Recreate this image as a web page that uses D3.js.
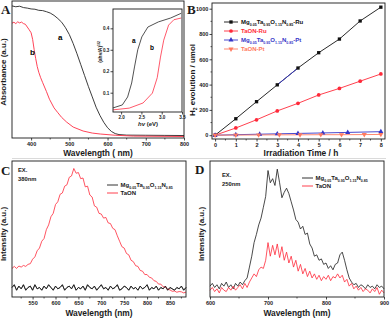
<!DOCTYPE html>
<html>
<head>
<meta charset="utf-8">
<script src="https://cdn.jsdelivr.net/npm/d3@7"></script>
<style>
  html, body { margin: 0; padding: 0; background: #fff; }
  svg { display: block; font-family: 'Liberation Sans', Arial, sans-serif; font-weight: bold; }
</style>
</head>
<body>
<svg id="fig" width="392" height="320"></svg>
<script>
// ===================================
// Data
// ===================================

// Panel A: UV-vis absorbance (a.u.)
const absWaveMg = [350, 360, 370, 380, 390, 400, 410, 420, 430, 440, 450, 460, 470, 480, 490, 500, 510, 520, 530, 540, 550, 560, 570, 580, 590, 600, 610, 620, 630, 650, 700, 750, 800];
const absMg = [0.964, 0.958, 0.962, 0.952, 0.948, 0.942, 0.94, 0.932, 0.93, 0.922, 0.912, 0.895, 0.872, 0.845, 0.805, 0.755, 0.69, 0.615, 0.535, 0.455, 0.375, 0.3, 0.225, 0.165, 0.115, 0.075, 0.048, 0.032, 0.025, 0.021, 0.02, 0.019, 0.018];
const absWaveTaON = [350, 355, 360, 365, 370, 375, 380, 385, 390, 395, 400, 404, 408, 412, 416, 420, 425, 430, 440, 448, 460, 469, 480, 493, 510, 536, 560, 581, 620, 668, 800];
const absTaON = [0.838, 0.845, 0.835, 0.848, 0.84, 0.846, 0.835, 0.83, 0.81, 0.79, 0.768, 0.72, 0.645, 0.58, 0.522, 0.48, 0.44, 0.406, 0.34, 0.283, 0.22, 0.188, 0.15, 0.116, 0.08, 0.051, 0.036, 0.029, 0.02, 0.014, 0.011];
const absTicks = [400, 500, 600, 700, 800];

// Panel A inset: Tauc plot
const taucEvMg = [1.8, 2.03, 2.16, 2.26, 2.33, 2.41, 2.51, 2.66, 2.92, 3.22, 3.48];
const taucMg = [0.029, 0.043, 0.08, 0.145, 0.22, 0.3, 0.36, 0.406, 0.43, 0.448, 0.47];
const taucEvTaON = [1.8, 2.2, 2.54, 2.77, 2.89, 2.97, 3.05, 3.17, 3.3, 3.48];
const taucTaON = [0.02, 0.028, 0.052, 0.098, 0.17, 0.266, 0.345, 0.415, 0.44, 0.448];
const taucXTicks = [2.0, 2.5, 3.0, 3.5];
const taucYTicks = [0.1, 0.2, 0.3, 0.4];

// Panel B: H2 evolution (umol)
const h2Hours = [0, 1, 2, 3, 4, 5, 6, 7, 8];
const h2MgRu = [0, 130, 265, 398, 531, 652, 760, 903, 1012];
const h2TaONRu = [0, 57, 122, 192, 252, 318, 370, 427, 484];
const h2MgPtHours = [0, 1, 2.15, 3, 4, 5.2, 6.4, 8];
const h2MgPt = [0, 4, 8, 11, 14, 18, 22, 28];
const h2TaONPtHours = [0, 1, 2.1, 3.1, 4.1, 5.1, 6.1, 7.2, 8];
const h2TaONPt = [0, 1, 2, 3, 3, 4, 4, 5, 6];
const h2XTicks = [0, 1, 2, 3, 4, 5, 6, 7, 8];
const h2YTicks = [0, 200, 400, 600, 800, 1000];

// Panel C: PL, EX. 380 nm (505..885 nm, 5 nm steps)
const plCStart = 505, plCStep = 5;
const plCMg = [0.07, 0.09, 0.05, 0.08, 0.06, 0.09, 0.05, 0.07, 0.08, 0.05, 0.09, 0.06, 0.07, 0.05, 0.08, 0.06, 0.09, 0.07, 0.05, 0.08,
  0.06, 0.07, 0.09, 0.05, 0.07, 0.08, 0.06, 0.09, 0.05, 0.07, 0.06, 0.08, 0.05, 0.09, 0.07, 0.06, 0.08, 0.05, 0.07, 0.09,
  0.06, 0.07, 0.05, 0.08, 0.06, 0.07, 0.09, 0.05, 0.06, 0.08, 0.07, 0.05, 0.08, 0.06, 0.07, 0.05, 0.08, 0.06, 0.07, 0.09,
  0.05, 0.07, 0.06, 0.08, 0.05, 0.07, 0.06, 0.08, 0.05, 0.07, 0.06, 0.05, 0.07, 0.06, 0.08, 0.05, 0.07];
const plCTaON = [0.21, 0.225, 0.21, 0.228, 0.22, 0.232, 0.225, 0.24, 0.245, 0.278, 0.295, 0.34, 0.36, 0.41, 0.43, 0.495, 0.53, 0.59, 0.615, 0.68,
  0.7, 0.755, 0.765, 0.815, 0.825, 0.88, 0.89, 0.945, 0.91, 0.915, 0.87, 0.875, 0.81, 0.815, 0.75, 0.735, 0.67, 0.66, 0.615, 0.61,
  0.58, 0.585, 0.545, 0.54, 0.505, 0.495, 0.45, 0.41, 0.37, 0.36, 0.32, 0.31, 0.27, 0.26, 0.23, 0.225, 0.195, 0.19, 0.165, 0.165,
  0.145, 0.14, 0.12, 0.115, 0.095, 0.095, 0.075, 0.072, 0.058, 0.052, 0.042, 0.044, 0.035, 0.04, 0.038, 0.03, 0.036];
const plCTicks = [550, 600, 650, 700, 750, 800, 850];

// Panel D: PL, EX. 250 nm (600..900 nm, 4 nm steps)
const plDStart = 600, plDStep = 4;
const plDMg = [0.08, 0.1, 0.07, 0.09, 0.06, 0.1, 0.08, 0.11, 0.07, 0.09, 0.06, 0.1, 0.08, 0.11, 0.09, 0.12,
  0.14, 0.22, 0.3, 0.4, 0.46, 0.53, 0.58, 0.66, 0.74, 0.93, 0.84, 0.87, 0.82, 0.94, 0.84, 0.73, 0.77, 0.8, 0.76, 0.7,
  0.64, 0.57, 0.55, 0.5, 0.52, 0.46, 0.47, 0.39, 0.36, 0.3, 0.31, 0.27, 0.28, 0.24, 0.25, 0.21, 0.23, 0.2, 0.24, 0.25,
  0.31, 0.33, 0.27, 0.2, 0.14, 0.11, 0.09, 0.1, 0.07, 0.09, 0.08, 0.06, 0.09, 0.07, 0.08, 0.06, 0.09, 0.07, 0.08, 0.06];
const plDTaON = [0.05, 0.07, 0.04, 0.06, 0.03, 0.07, 0.05, 0.04, 0.07, 0.05, 0.08, 0.05, 0.07, 0.09, 0.06, 0.1,
  0.07, 0.11, 0.14, 0.17, 0.15, 0.2, 0.22, 0.21, 0.27, 0.4, 0.3, 0.38, 0.31, 0.39, 0.29, 0.37, 0.27, 0.33, 0.25, 0.3,
  0.22, 0.27, 0.19, 0.24, 0.17, 0.21, 0.15, 0.19, 0.14, 0.17, 0.13, 0.16, 0.12, 0.15, 0.13, 0.16, 0.12, 0.15, 0.14, 0.17,
  0.14, 0.16, 0.11, 0.13, 0.08, 0.1, 0.06, 0.08, 0.05, 0.07, 0.04, 0.06, 0.05, 0.03, 0.06, 0.04, 0.07, 0.02, 0.05, 0.03];
const plDTicks = [600, 700, 800, 900];

const MG_LABEL = 'Mg_{0.05}Ta_{0.95}O_{1.15}N_{0.85}';

// ===================================
// Helpers
// ===================================

const svg = d3.select('#fig');
const INK = '#1a1a1a';

function drawFrame(x, y) {
  const [x0, x1] = x.range();
  const [y0, y1] = y.range();
  svg.append('rect')
    .attr('x', Math.min(x0, x1)).attr('y', Math.min(y0, y1))
    .attr('width', Math.abs(x1 - x0)).attr('height', Math.abs(y1 - y0))
    .attr('fill', 'none').attr('stroke', INK).attr('stroke-width', 0.9);
}

function styleAxis(g, fontSize) {
  g.attr('font-family', null).attr('font-size', fontSize);
  g.select('.domain').remove();
  g.selectAll('line').attr('stroke', INK).attr('stroke-width', 0.8);
  g.selectAll('text').attr('fill', INK);
}

function bottomAxis(x, yPos, ticks, fmt, fontSize, minor) {
  const g = svg.append('g').attr('transform', `translate(0,${yPos})`)
    .call(d3.axisBottom(x).tickValues(ticks).tickSize(2.5).tickPadding(1.2).tickFormat(fmt));
  styleAxis(g, fontSize);
  if (minor) {
    g.selectAll('.minor').data(minor).join('line')
      .attr('x1', (d) => x(d)).attr('x2', (d) => x(d))
      .attr('y1', 0).attr('y2', 1.5)
      .attr('stroke', INK).attr('stroke-width', 0.7);
  }
  return g;
}

function leftAxis(y, xPos, ticks, fmt, fontSize, minor) {
  const g = svg.append('g').attr('transform', `translate(${xPos},0)`)
    .call(d3.axisLeft(y).tickValues(ticks).tickSize(2.5).tickPadding(1.2).tickFormat(fmt));
  styleAxis(g, fontSize);
  if (minor) {
    g.selectAll('.minor').data(minor).join('line')
      .attr('y1', (d) => y(d)).attr('y2', (d) => y(d))
      .attr('x1', 0).attr('x2', -1.5)
      .attr('stroke', INK).attr('stroke-width', 0.7);
  }
  return g;
}

// text with _{...} subscripts
function richText(parent, str, x, y, fs, color) {
  const t = parent.append('text').attr('x', x).attr('y', y)
    .attr('font-size', fs).attr('fill', color);
  const parts = str.split(/(_\{[^}]+\})/).filter(Boolean);
  let low = false;
  parts.forEach((p) => {
    if (p.startsWith('_{')) {
      t.append('tspan').text(p.slice(2, -1))
        .attr('font-size', fs * 0.6).attr('dy', low ? 0 : fs * 0.3);
      low = true;
    } else {
      t.append('tspan').text(p).attr('dy', low ? -fs * 0.3 : 0);
      low = false;
    }
  });
  return t;
}

function plotLine(xs, ys, x, y, color, width) {
  const pts = xs.map((d, i) => [d, ys[i]]);
  svg.append('path').datum(pts)
    .attr('fill', 'none').attr('stroke', color).attr('stroke-width', width || 0.9)
    .attr('stroke-linejoin', 'round')
    .attr('d', d3.line().x((d) => x(d[0])).y((d) => y(d[1])));
}

function stepped(start, step, vals) {
  return vals.map((_, i) => start + i * step);
}

function yTitle(cx, cy, fs) {
  return svg.append('text')
    .attr('transform', `translate(${cx},${cy}) rotate(-90)`)
    .attr('text-anchor', 'middle').attr('font-size', fs).attr('fill', INK);
}

function panelLabel(x, y, s) {
  svg.append('text').attr('x', x).attr('y', y).text(s)
    .attr('font-family', "'Liberation Serif', 'Times New Roman', serif")
    .attr('font-size', 13).attr('fill', INK);
}

// ===================================
// Panel A
// ===================================

function drawPanelA() {
  const x = d3.scaleLinear().domain([350, 800]).range([12, 184]);
  const y = d3.scaleLinear().domain([0, 1]).range([138, 1]);

  plotLine(absWaveMg, absMg, x, y, '#262626');
  plotLine(absWaveTaON, absTaON, x, y, '#ff2f45');
  drawFrame(x, y);
  bottomAxis(x, 138, absTicks, d3.format('d'), 5.5, [450, 550, 650, 750]);

  svg.append('text').attr('x', 98).attr('y', 155.5).attr('text-anchor', 'middle')
    .attr('font-size', 8.4).attr('fill', INK).text('Wavelength ( nm)');
  yTitle(6, 72, 8).text('Absorbance (a.u.)');

  svg.append('text').attr('x', 58).attr('y', 40).attr('font-size', 8).text('a');
  svg.append('text').attr('x', 30).attr('y', 55).attr('font-size', 8).text('b');

  // inset Tauc plot
  const ix = d3.scaleLinear().domain([1.8, 3.5]).range([113, 182]);
  const iy = d3.scaleLinear().domain([0.01, 0.49]).range([112, 9]);
  svg.append('rect').attr('x', 113).attr('y', 9).attr('width', 69).attr('height', 103).attr('fill', '#fff');
  plotLine(taucEvMg, taucMg, ix, iy, '#262626', 0.8);
  plotLine(taucEvTaON, taucTaON, ix, iy, '#ff2f45', 0.8);
  drawFrame(ix, iy);
  bottomAxis(ix, 112, taucXTicks, d3.format('.1f'), 4.6);
  leftAxis(iy, 113, taucYTicks, d3.format('.1f'), 4.6);

  svg.append('text').attr('x', 132).attr('y', 43).attr('font-size', 6.5).text('a');
  svg.append('text').attr('x', 150).attr('y', 50).attr('font-size', 6.5).text('b');

  const ht = svg.append('text').attr('x', 148).attr('y', 126).attr('text-anchor', 'middle')
    .attr('font-size', 6).attr('fill', INK);
  ht.append('tspan').attr('font-style', 'italic').text('hv');
  ht.append('tspan').text(' (eV)');

  const yt = yTitle(102, 52, 5);
  yt.append('tspan').text('(ahv/A)');
  yt.append('tspan').attr('font-size', 3.4).attr('dy', -2).text('1/2');
}

// ===================================
// Panel B
// ===================================

function drawPanelB() {
  const x = d3.scaleLinear().domain([-0.15, 8.2]).range([212, 385]);
  const y = d3.scaleLinear().domain([-30, 1045]).range([139, 3]);

  const series = [
    { name: MG_LABEL + '-Ru', hours: h2Hours, vals: h2MgRu, color: '#111', sym: d3.symbolSquare, rot: 0 },
    { name: 'TaON-Ru', hours: h2Hours, vals: h2TaONRu, color: '#ff2a3a', sym: d3.symbolCircle, rot: 0 },
    { name: MG_LABEL + '-Pt', hours: h2MgPtHours, vals: h2MgPt, color: '#3535c8', sym: d3.symbolTriangle, rot: 0 },
    { name: 'TaON-Pt', hours: h2TaONPtHours, vals: h2TaONPt, color: '#ff7a60', sym: d3.symbolTriangle, rot: 180 },
  ];

  series.forEach((s) => plotLine(s.hours, s.vals, x, y, s.color, 0.9));
  // blue trace overlaps the black one between 3 h and 4 h in the original
  plotLine(h2Hours.slice(3, 5), h2MgRu.slice(3, 5), x, y, '#3535c8', 0.9);

  series.forEach((s) => {
    svg.append('g').selectAll('path').data(s.hours.map((h, i) => [h, s.vals[i]])).join('path')
      .attr('transform', (d) => `translate(${x(d[0])},${y(d[1])}) rotate(${s.rot})`)
      .attr('d', d3.symbol(s.sym, 11))
      .attr('fill', s.color);
  });

  drawFrame(x, y);
  bottomAxis(x, 139, h2XTicks, d3.format('d'), 5.5, [0.5, 1.5, 2.5, 3.5, 4.5, 5.5, 6.5, 7.5]);
  leftAxis(y, 212, h2YTicks, d3.format('d'), 5.5, [100, 300, 500, 700, 900]);

  svg.append('text').attr('x', 301).attr('y', 155.5).attr('text-anchor', 'middle')
    .attr('font-size', 8.4).attr('fill', INK).text('Irradiation Time / h');
  const yt = yTitle(195, 80, 8);
  yt.append('tspan').text('H');
  yt.append('tspan').attr('font-size', 5).attr('dy', 2).text('2');
  yt.append('tspan').attr('dy', -2).text(' evolution / umol');

  // legend
  const rows = [22, 31, 40, 49];
  series.forEach((s, i) => {
    const cy = rows[i];
    svg.append('line').attr('x1', 224).attr('x2', 238).attr('y1', cy).attr('y2', cy)
      .attr('stroke', s.color).attr('stroke-width', 0.9);
    svg.append('path').attr('transform', `translate(231,${cy}) rotate(${s.rot})`)
      .attr('d', d3.symbol(s.sym, 11)).attr('fill', s.color);
    richText(svg, s.name, 241, cy + 2.2, 6, s.color);
  });
}

// ===================================
// Panels C and D
// ===================================

function drawPL(opts) {
  const x = d3.scaleLinear().domain(opts.domain).range(opts.xr);
  const y = d3.scaleLinear().domain([0, 1]).range([297, 161]);
  const mgWave = stepped(opts.start, opts.step, opts.mg);
  const taonWave = stepped(opts.start, opts.step, opts.taon);

  plotLine(mgWave, opts.mg, x, y, '#1c1c1c', 0.8);
  plotLine(taonWave, opts.taon, x, y, '#ff2a3a', 0.8);
  if (opts.mgOnTop) plotLine(mgWave, opts.mg, x, y, '#1c1c1c', 0.8);

  drawFrame(x, y);
  bottomAxis(x, 297, opts.ticks, d3.format('d'), 5.5, opts.minor);

  svg.append('text').attr('x', (opts.xr[0] + opts.xr[1]) / 2).attr('y', 316).attr('text-anchor', 'middle')
    .attr('font-size', 8.4).attr('fill', INK).text('Wavelength (nm)');
  yTitle(opts.xr[0] - 6, 234, 8).text('Intensity (a.u.)');

  svg.append('text').attr('x', opts.ex[0]).attr('y', opts.ex[1]).attr('font-size', 5.8).attr('fill', INK).text('EX.');
  svg.append('text').attr('x', opts.ex[0]).attr('y', opts.ex[1] + 8.5).attr('font-size', 5.8).attr('fill', INK).text(opts.exText);

  const [lx, ly] = opts.legend;
  [[MG_LABEL, '#1c1c1c'], ['TaON', '#ff2a3a']].forEach(([name, color], i) => {
    const cy = ly + i * 8;
    svg.append('line').attr('x1', lx).attr('x2', lx + 11).attr('y1', cy).attr('y2', cy)
      .attr('stroke', color).attr('stroke-width', 0.9);
    richText(svg, name, lx + 13.5, cy + 2.2, 6, INK);
  });
}

drawPanelA();
drawPanelB();

drawPL({
  domain: [505, 885], xr: [12, 186], start: plCStart, step: plCStep,
  mg: plCMg, taon: plCTaON, ticks: plCTicks,
  minor: [525, 575, 625, 675, 725, 775, 825, 875],
  ex: [18, 172], exText: '380nm', legend: [107, 185], mgOnTop: true,
});

drawPL({
  domain: [600, 900], xr: [210, 384], start: plDStart, step: plDStep,
  mg: plDMg, taon: plDTaON, ticks: plDTicks,
  minor: [650, 750, 850],
  ex: [222, 177], exText: '250nm', legend: [302, 178], mgOnTop: false,
});

// separator between the two rows
svg.append('line').attr('x1', 12).attr('x2', 386).attr('y1', 158.5).attr('y2', 158.5)
  .attr('stroke', '#d0d0d0').attr('stroke-width', 0.8);

panelLabel(1, 14, 'A');
panelLabel(187, 14, 'B');
panelLabel(1, 175, 'C');
panelLabel(195, 174, 'D');
</script>
</body>
</html>
